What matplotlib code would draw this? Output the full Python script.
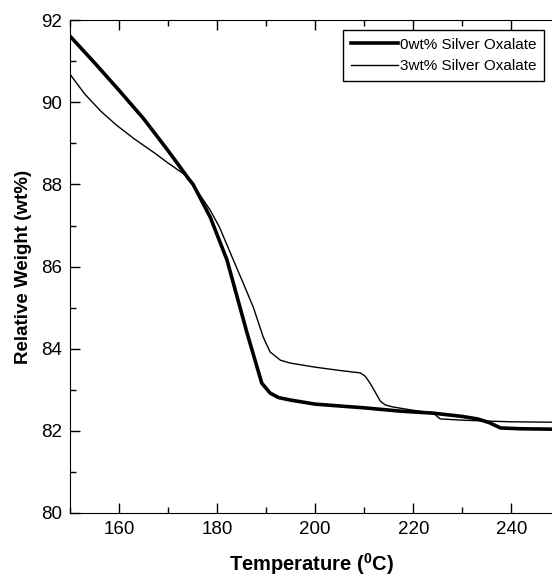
import matplotlib
matplotlib.use('Agg')
import matplotlib.pyplot as plt
from matplotlib.ticker import MultipleLocator

plt.rcParams['font.family'] = ['Liberation Sans', 'DejaVu Sans']

# 0wt% silver oxalate
t0 = [150, 155, 160, 165, 170, 174.1, 175.1, 178.6, 182.0, 186.1, 189.1, 190.8, 192.5,
      194.9, 200, 210, 217.3, 224.1, 230, 233.1, 235.5, 237.8, 242, 248.5]
w0 = [91.61, 90.96, 90.29, 89.6, 88.82, 88.15, 88.0, 87.2, 86.16, 84.38, 83.16, 82.92, 82.81,
      82.75, 82.65, 82.56, 82.48, 82.43, 82.35, 82.29, 82.2, 82.07, 82.05, 82.04]

# 3wt% silver oxalate
t3 = [150, 153, 156.3, 159.5, 163.2, 167.3, 170, 173.5, 176.1, 178.6, 180.5, 183.3, 185.3,
      187.4, 189.4, 190.8, 192.9, 194.9, 200, 205, 209.2, 210.2, 211.2, 212.2, 213.3, 214.3,
      215.9, 220, 224.1, 225.5, 230, 234.3, 240, 248.5]
w3 = [90.68, 90.2, 89.78, 89.44, 89.1, 88.76, 88.52, 88.23, 87.81, 87.37, 86.95, 86.16, 85.6,
      85.0, 84.28, 83.92, 83.72, 83.65, 83.55, 83.47, 83.41, 83.33, 83.16, 82.95, 82.72, 82.63,
      82.58, 82.5, 82.43, 82.29, 82.26, 82.24, 82.22, 82.21]

fig = plt.figure(figsize=(5.52, 5.77), dpi=100)
ax = fig.add_axes([0.127, 0.111, 0.873, 0.854])

ax.plot(t0, w0, color='black', lw=2.6, label='0wt% Silver Oxalate')
ax.plot(t3, w3, color='black', lw=1.0, label='3wt% Silver Oxalate')

ax.set_xlim(150, 248.3)
ax.set_ylim(80, 92)
ax.xaxis.set_major_locator(MultipleLocator(20))
ax.xaxis.set_minor_locator(MultipleLocator(10))
ax.yaxis.set_major_locator(MultipleLocator(2))
ax.yaxis.set_minor_locator(MultipleLocator(1))
ax.tick_params(which='major', direction='in', length=7, width=1, labelsize=13.5, top=True, pad=6)
ax.tick_params(which='minor', direction='in', length=4, width=1, top=True)
ax.spines['right'].set_visible(False)

ax.set_xlabel('Temperature ($\\mathregular{^0}$C)', fontsize=14.5, fontweight='bold', labelpad=9)
ax.set_ylabel('Relative Weight (wt%)', fontsize=13.5, fontweight='bold', labelpad=6)

leg = ax.legend(loc='upper right', bbox_to_anchor=(0.983, 0.98), fontsize=11, fancybox=False,
                framealpha=1, edgecolor='black', handlelength=3.1, handletextpad=0.1,
                borderpad=0.5, labelspacing=0.5, borderaxespad=0)
leg.get_frame().set_linewidth(1.0)

fig.savefig('out.png', dpi=100)
